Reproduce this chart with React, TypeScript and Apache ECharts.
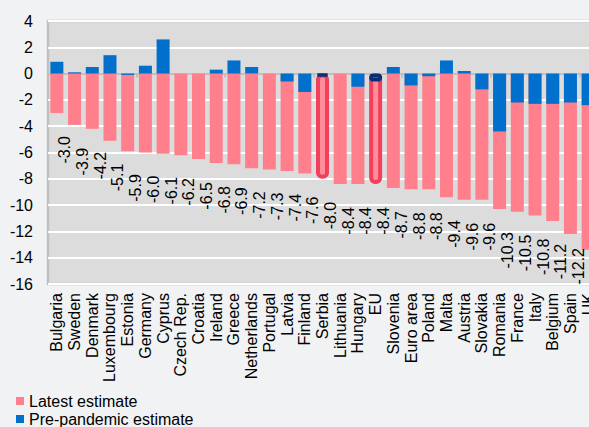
import React, { useEffect, useRef } from "react";
import * as echarts from "echarts";

const categories = [
  "Bulgaria", "Sweden", "Denmark", "Luxembourg", "Estonia", "Germany", "Cyprus",
  "Czech Rep.", "Croatia", "Ireland", "Greece", "Netherlands", "Portugal", "Latvia",
  "Finland", "Serbia", "Lithuania", "Hungary", "EU", "Slovenia", "Euro area", "Poland",
  "Malta", "Austria", "Slovakia", "Romania", "France", "Italy", "Belgium", "Spain", "UK",
];

const latestEstimate = [
  -3.0, -3.9, -4.2, -5.1, -5.9, -6.0, -6.1, -6.2, -6.5, -6.8, -6.9, -7.2, -7.3, -7.4,
  -7.6, -8.0, -8.4, -8.4, -8.4, -8.7, -8.8, -8.8, -9.4, -9.6, -9.6, -10.3, -10.5, -10.8,
  -11.2, -12.2, -13.4,
];

const prePandemicEstimate = [
  0.9, 0.1, 0.5, 1.4, -0.1, 0.6, 2.6, 0, 0, 0.3, 1.0, 0.5, 0, -0.6, -1.4, -0.2, 0, -1.0,
  -0.6, 0.5, -0.9, -0.2, 1.0, 0.2, -1.2, -4.4, -2.2, -2.3, -2.3, -2.2, -2.4,
];

const highlighted = ["Serbia", "EU"];
const labelGapOverride: Record<string, number> = { Spain: 14, UK: 3 };

const FONT = "'Liberation Sans', Arial, sans-serif";
const FONT_SIZE = 16;
const PINK = "#ff808c";
const BLUE = "#0070cc";

function measure(text: string): number {
  const c = document.createElement("canvas").getContext("2d");
  if (!c) return text.length * 8;
  c.font = `${FONT_SIZE}px 'Liberation Sans', Arial, sans-serif`;
  return c.measureText(text).width;
}

export default function App() {
  const ref = useRef<HTMLDivElement>(null);

  useEffect(() => {
    if (!ref.current) return;
    const chart = echarts.init(ref.current, undefined, { renderer: "svg" });

    const latestData = latestEstimate.map((v, i) => {
      const name = categories[i];
      const item: any = { value: v };
      if (highlighted.includes(name)) {
        item.itemStyle = {
          color: "#ff8d99",
          borderColor: "#f2405c",
          borderWidth: 4,
          borderRadius: 4,
        };
      }
      const gap = labelGapOverride[name] !== undefined ? labelGapOverride[name] : 23;
      const txt = v.toFixed(1);
      item.label = { distance: gap + measure(txt) / 2 };
      return item;
    });

    const preData = prePandemicEstimate.map((v, i) => {
      const name = categories[i];
      const item: any = { value: v };
      if (highlighted.includes(name)) {
        item.itemStyle = {
          color: BLUE,
          borderColor: "#0b2f73",
          borderWidth: 3.5,
          borderRadius: 3,
        };
      }
      return item;
    });

    chart.setOption({
      animation: false,
      backgroundColor: "#f1f2f4",
      textStyle: { fontFamily: FONT },
      graphic: [
        {
          type: "text",
          left: 12,
          top: -17,
          style: { text: "(as % of GDP)", fontSize: 17, fontFamily: FONT, fill: "#000" },
        },
      ],
      grid: {
        show: true,
        left: 48,
        top: 21,
        width: 549,
        height: 263,
        backgroundColor: "#dcdcdc",
        borderColor: "#c0c0c0",
        borderWidth: 2.5,
        containLabel: false,
        outerBoundsMode: "none",
      },
      legend: {
        orient: "vertical",
        left: 16,
        top: 393,
        padding: 0,
        itemWidth: 8,
        itemHeight: 8,
        itemGap: 2,
        icon: "rect",
        textStyle: { fontSize: FONT_SIZE, color: "#000", fontFamily: FONT },
        data: ["Latest estimate", "Pre-pandemic estimate"],
      },
      xAxis: [
        {
          type: "category",
          data: categories,
          position: "bottom",
          axisLine: { onZero: true, lineStyle: { color: "#c0c0c0", width: 2 } },
          axisTick: { show: true, length: 4, lineStyle: { color: "#c0c0c0", width: 2 } },
          axisLabel: { show: false },
          splitLine: { show: false },
        },
        {
          type: "category",
          data: categories,
          position: "bottom",
          axisLine: { show: false, onZero: false },
          axisTick: { show: false },
          axisLabel: {
            interval: 0,
            rotate: 90,
            margin: 9,
            fontSize: FONT_SIZE,
            color: "#000",
            fontFamily: FONT,
          },
        },
      ],
      yAxis: {
        type: "value",
        min: -16,
        max: 4,
        interval: 2,
        axisLine: { show: false },
        axisTick: { show: false },
        axisLabel: { fontSize: FONT_SIZE, color: "#000", margin: 15, fontFamily: FONT },
        splitLine: { show: true, lineStyle: { color: "#ffffff", width: 2 } },
      },
      series: [
        {
          name: "Latest estimate",
          type: "bar",
          xAxisIndex: 0,
          barWidth: 13,
          barGap: "-100%",
          itemStyle: { color: PINK },
          label: {
            show: true,
            position: "bottom",
            rotate: 90,
            fontSize: FONT_SIZE,
            color: "#000",
            fontFamily: FONT,
            formatter: (p: any) => Number(p.value).toFixed(1),
          },
          data: latestData,
          z: 2,
        },
        {
          name: "Pre-pandemic estimate",
          type: "bar",
          xAxisIndex: 0,
          barWidth: 13,
          barGap: "-100%",
          itemStyle: { color: BLUE },
          data: preData,
          z: 3,
        },
      ],
    });

    return () => chart.dispose();
  }, []);

  return (
    <div
      ref={ref}
      style={{ position: "fixed", left: 0, top: 0, width: 589, height: 427, overflow: "hidden" }}
    />
  );
}
